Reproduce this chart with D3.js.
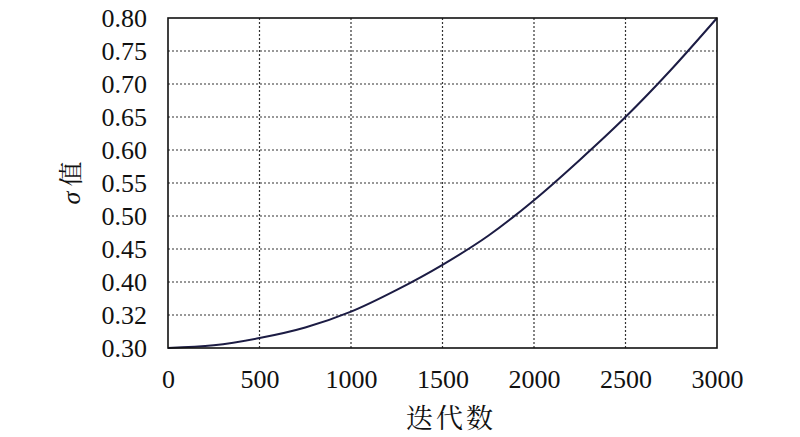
<!DOCTYPE html>
<html>
<head>
<meta charset="utf-8">
<script src="https://cdn.jsdelivr.net/npm/d3@7"></script>
<style>
  body { margin: 0; background: #fff; }
</style>
</head>
<body>
<div id="chart-area"></div>
<script>
// DATA
var iterations = [0, 250, 500, 750, 1000, 1250, 1500, 1750, 2000, 2250, 2500, 2750, 3000];
var sigmaValues = [0.300, 0.304, 0.315, 0.331, 0.355, 0.388, 0.426, 0.470, 0.524, 0.585, 0.650, 0.722, 0.800];
var xTickValues = [0, 500, 1000, 1500, 2000, 2500, 3000];
var yTickValues = [0.30, 0.35, 0.40, 0.45, 0.50, 0.55, 0.60, 0.65, 0.70, 0.75, 0.80];
var yTickLabels = ["0.30", "0.32", "0.40", "0.45", "0.50", "0.55", "0.60", "0.65", "0.70", "0.75", "0.80"];

var serifFont = "Liberation Serif";
var cjkFont = "Noto Serif CJK SC";

var margin = { left: 168, right: 83, top: 18, bottom: 89 };
var width = 800 - margin.left - margin.right,
    height = 437 - margin.top - margin.bottom;

var svg = d3.select("#chart-area")
    .append("svg")
        .attr("width", 800)
        .attr("height", 437);

var g = svg.append("g")
    .attr("transform", "translate(" + margin.left + ", " + margin.top + ")");

// SCALES
var x = d3.scaleLinear()
    .domain([0, 3000])
    .range([0, width]);

var y = d3.scaleLinear()
    .domain([0.30, 0.80])
    .range([height, 0]);

// GRID
g.append("g")
    .selectAll("line")
    .data(xTickValues.slice(1, -1))
    .enter().append("line")
        .attr("x1", function(d) { return x(d); })
        .attr("x2", function(d) { return x(d); })
        .attr("y1", 0)
        .attr("y2", height)
        .attr("stroke", "#333")
        .attr("stroke-width", 1.2)
        .attr("stroke-dasharray", "2,2");

g.append("g")
    .selectAll("line")
    .data(yTickValues.slice(1, -1))
    .enter().append("line")
        .attr("x1", 0)
        .attr("x2", width)
        .attr("y1", function(d) { return y(d); })
        .attr("y2", function(d) { return y(d); })
        .attr("stroke", "#333")
        .attr("stroke-width", 1.2)
        .attr("stroke-dasharray", "2,2");

// X AXIS
var xAxisCall = d3.axisBottom(x)
    .tickValues(xTickValues)
    .tickSize(0)
    .tickPadding(22)
    .tickFormat(d3.format("d"));
var xAxis = g.append("g")
    .attr("class", "x axis")
    .attr("transform", "translate(0," + height + ")")
    .call(xAxisCall);

// Y AXIS
var yAxisCall = d3.axisLeft(y)
    .tickValues(yTickValues)
    .tickSize(0)
    .tickPadding(21)
    .tickFormat(function(d, i) { return yTickLabels[i]; });
var yAxis = g.append("g")
    .attr("class", "y axis")
    .call(yAxisCall);

[xAxis, yAxis].forEach(function(ax) {
    ax.attr("font-family", serifFont).attr("font-size", 26);
    ax.select(".domain").remove();
    ax.selectAll("text").attr("fill", "#111");
});

// CURVE
var line = d3.line()
    .x(function(d, i) { return x(iterations[i]); })
    .y(function(d) { return y(d); })
    .curve(d3.curveMonotoneX);

g.append("path")
    .datum(sigmaValues)
    .attr("fill", "none")
    .attr("stroke", "#1c1c44")
    .attr("stroke-width", 2)
    .attr("d", line);

// FRAME
g.append("rect")
    .attr("width", width)
    .attr("height", height)
    .attr("fill", "none")
    .attr("stroke", "#111")
    .attr("stroke-width", 1.6);

// LABELS
svg.append("text")
    .attr("x", 451)
    .attr("y", 428)
    .attr("text-anchor", "middle")
    .attr("font-family", cjkFont)
    .attr("font-size", 27)
    .attr("fill", "#111")
    .attr("letter-spacing", "3px")
    .text("迭代数");

var yLabel = svg.append("text")
    .attr("transform", "translate(80,183) rotate(-90)")
    .attr("text-anchor", "middle")
    .attr("fill", "#111");
yLabel.append("tspan")
    .attr("font-family", serifFont)
    .attr("font-style", "italic")
    .attr("font-size", 26)
    .text("σ");
yLabel.append("tspan")
    .attr("dx", 5)
    .attr("font-family", cjkFont)
    .attr("font-size", 25)
    .text("值");
</script>
</body>
</html>
